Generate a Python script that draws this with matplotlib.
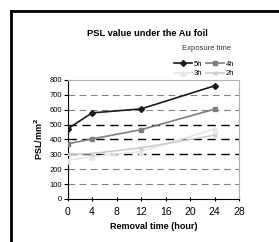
import matplotlib
matplotlib.use("Agg")
import matplotlib.pyplot as plt
from matplotlib.lines import Line2D

# data
removal_time = [0, 4, 12, 24]
psl_5h = [470, 578, 605, 760]
psl_4h = [370, 403, 465, 603]
psl_3h = [258, 285, 318, 470]
psl_2h = [300, 305, 343, 428]
y_ticks = [0, 100, 200, 300, 400, 500, 600, 700, 800]
x_ticks = [0, 4, 8, 12, 16, 20, 24, 28]

plt.rcParams['font.family'] = ['Liberation Sans', 'DejaVu Sans']

fig = plt.figure(figsize=(2.79, 2.42), dpi=100)
ax = fig.add_axes([0.242, 0.178, 0.615, 0.492])

# horizontal dashed grid, the middle three are darker
for v in y_ticks[1:-1]:
    dark = v in (300, 400, 500)
    ax.axhline(v, color='black' if dark else '#808080', lw=1.0 if dark else 0.8,
               dashes=(6, 4), zorder=1)

l5, = ax.plot(removal_time, psl_5h, color='#1a1a1a', lw=1.2, marker='D', ms=3, zorder=3, label='5h')
l4, = ax.plot(removal_time, psl_4h, color='#7f7f7f', lw=1.2, marker='s', ms=3.5, zorder=3, label='4h')
l3, = ax.plot(removal_time, psl_3h, color='#e6e6e6', lw=1.2, marker='^', ms=3.5, zorder=3, label='3h')
l2, = ax.plot(removal_time, psl_2h, color='#cccccc', lw=1.2, marker='x', ms=3.5, mew=1, zorder=3, label='2h')

ax.set_xlim(0, 28)
ax.set_ylim(0, 800)
ax.set_xticks(x_ticks)
ax.set_yticks(y_ticks)
ax.tick_params(axis='x', labelsize=7.5, length=3, width=0.8, direction='inout', pad=4)
ax.tick_params(axis='y', labelsize=5.5, length=3, width=0.8, direction='out', pad=1)
for s in ['left', 'bottom']:
    ax.spines[s].set_color('black')
    ax.spines[s].set_linewidth(0.8)
for s in ['top', 'right']:
    ax.spines[s].set_color('#b0b0b0')
    ax.spines[s].set_linewidth(0.8)

ax.set_xlabel('Removal time (hour)', fontsize=6.5, fontweight='bold', labelpad=4)
ax.set_ylabel('PSL/mm$^\\mathbf{2}$', fontsize=6.5, fontweight='bold', labelpad=3)

fig.text(147 / 279, 1 - 34 / 242, 'PSL value under the Au foil', fontsize=6.7,
         fontweight='bold', ha='center', va='center')
fig.text(207 / 279, 1 - 48 / 242, 'Exposure time', fontsize=5.5, color='#333333',
         ha='center', va='center')

# column-major fill -> rows read 5h 4h / 3h 2h
handles = [l5, l3, l4, l2]
leg = fig.legend(handles, [h.get_label() for h in handles],
                 loc='upper right', bbox_to_anchor=(239 / 279, 1 - 56 / 242), ncol=2,
                 fontsize=5.5, frameon=False, handlelength=2.4, handletextpad=0.2,
                 columnspacing=0.5, labelspacing=0.25, borderpad=0.1)

# outer black frame (top and left edges)
fig.add_artist(Line2D([0.04, 1.0], [0.955, 0.955], color='black', lw=2, transform=fig.transFigure))
fig.add_artist(Line2D([0.04, 0.04], [0.0, 0.955], color='black', lw=2, transform=fig.transFigure))

fig.savefig('out.png', dpi=100)
